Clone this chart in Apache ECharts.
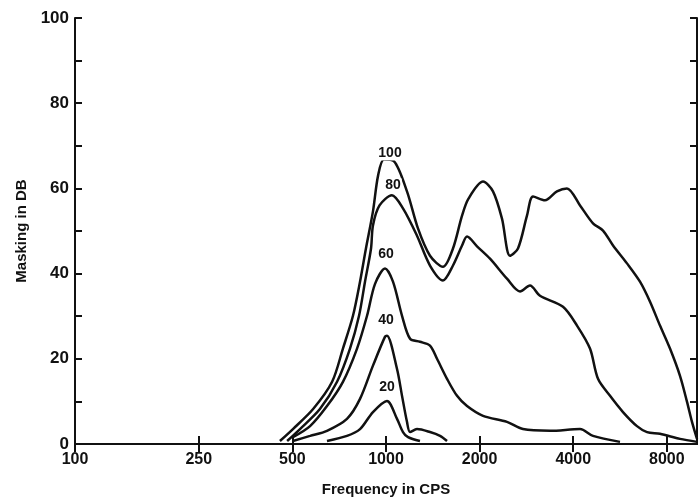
<!DOCTYPE html>
<html>
<head>
<meta charset="utf-8">
<script src="https://cdn.jsdelivr.net/npm/echarts@6/dist/echarts.min.js"></script>
<style>
  html, body { margin: 0; padding: 0; background: #fff; }
  #chart { width: 700px; height: 502px; }
</style>
</head>
<body>
<div id="chart"></div>
<script>
// frequency (cps) / masking (dB) pairs
const curve100 = [
  [456, 0.7], [502, 3.5], [583, 8.2], [671, 14.6], [727, 22.4], [783, 30.1], [825, 38.1],
  [862, 45.9], [908, 54.6], [943, 63], [985, 66.8], [1060, 66.4], [1168, 59.3], [1267, 50.6],
  [1385, 44.2], [1525, 41.6], [1642, 45.9], [1756, 53.6], [1842, 57.6], [2051, 61.6],
  [2208, 59.3], [2360, 52.9], [2504, 44.2], [2657, 45.9], [2840, 53.6], [2970, 58.1],
  [3245, 57.2], [3546, 59.3], [3819, 60], [4206, 56], [4630, 51.8], [4986, 50.1],
  [5370, 46.6], [5955, 42.4], [6557, 38.1], [7063, 33.4], [7603, 27.8], [8188, 22.4],
  [8817, 16], [9288, 9.9], [9636, 5.2], [10000, 1.2]
];
const curve80 = [
  [481, 0.7], [529, 3.5], [613, 8.2], [696, 14.6], [766, 22.4], [819, 30.1], [856, 38.1],
  [895, 45.9], [908, 51.3], [953, 56], [1045, 58.4], [1134, 55.3], [1258, 48.9], [1385, 41.9],
  [1525, 38.4], [1642, 41.9], [1756, 46.6], [1822, 48.7], [1962, 46.4], [2160, 43.5],
  [2449, 38.8], [2697, 35.8], [2904, 37.2], [3127, 34.8], [3708, 32.2], [4113, 27.8],
  [4528, 22.4], [4805, 15.3], [5252, 11.3], [5781, 7.5], [6412, 4.2], [6907, 2.8],
  [7603, 2.4], [8817, 1.2], [10000, 0.5]
];
const curve60 = [
  [502, 1.6], [570, 4.2], [646, 8.9], [727, 14.6], [807, 22.4], [869, 30.1], [922, 37.6],
  [993, 41.2], [1053, 38.1], [1126, 30.1], [1195, 24.7], [1286, 24], [1385, 23.1],
  [1459, 20], [1571, 15.3], [1692, 11.3], [1822, 8.9], [2051, 6.6], [2449, 5.2],
  [2757, 3.5], [3368, 3.1], [4206, 3.5], [4630, 1.9], [5655, 0.5]
];
const curve40 = [
  [502, 0.7], [570, 1.9], [646, 3.1], [749, 5.9], [825, 10.6], [908, 18.4], [993, 25.2],
  [1007, 25.4], [1085, 17.6], [1126, 11.3], [1168, 5.2], [1195, 2.8], [1258, 3.5],
  [1385, 2.8], [1492, 1.9], [1571, 0.7]
];
const curve20 = [
  [646, 0.7], [749, 1.9], [825, 3.5], [908, 7.5], [1007, 10.1], [1085, 5.9], [1134, 2.8],
  [1177, 1.6], [1286, 0.7]
];
const curveNames = ['100', '80', '60', '40', '20'];
const labelSpots = [[1030, 68.2], [1053, 60.7], [1000, 44.5], [1000, 29], [1007, 13.4]];
const freqTicks = [100, 250, 500, 1000, 2000, 4000, 8000];

const FONT = "'Liberation Sans Narrow', 'Liberation Sans', Arial, sans-serif";
const INK = '#111';

const chart = echarts.init(document.getElementById('chart'));

const xBase = {
  type: 'log', logBase: 10, min: 100, max: 10000,
  axisLine: { lineStyle: { color: INK, width: 2 } },
  axisTick: { inside: true, length: 8, lineStyle: { color: INK, width: 2 }, customValues: freqTicks },
  minorTick: { show: false },
  splitLine: { show: false }
};
const yBase = {
  type: 'value', min: 0, max: 100, interval: 10,
  axisLine: { show: true, lineStyle: { color: INK, width: 2 } },
  axisTick: { inside: true, length: 7, lineStyle: { color: INK, width: 2 } },
  splitLine: { show: false }
};

const curves = [curve100, curve80, curve60, curve40, curve20];

chart.setOption({
  animation: false,
  backgroundColor: '#fff',
  grid: { left: 75, right: 3, top: 18, bottom: 57 },
  xAxis: [
    Object.assign({}, xBase, {
      position: 'bottom',
      name: 'Frequency in CPS', nameLocation: 'middle', nameGap: 38,
      nameTextStyle: { color: INK, fontFamily: FONT, fontWeight: 'bold', fontSize: 15 },
      axisLabel: {
        customValues: freqTicks, color: INK, fontFamily: FONT, fontWeight: 'bold',
        fontSize: 16, margin: 8,
        formatter: v => String(Math.round(v))
      }
    }),
    Object.assign({}, xBase, { position: 'top', axisLabel: { show: false } })
  ],
  yAxis: [
    Object.assign({}, yBase, {
      position: 'left',
      name: 'Masking in DB', nameLocation: 'middle', nameGap: 45,
      nameTextStyle: { color: INK, fontFamily: FONT, fontWeight: 'bold', fontSize: 15 },
      axisLabel: {
        color: INK, fontFamily: FONT, fontWeight: 'bold', fontSize: 17, margin: 6,
        formatter: v => (v % 20 === 0 ? String(v) : '')
      }
    }),
    Object.assign({}, yBase, { position: 'right', axisLabel: { show: false } })
  ],
  series: curves.map((data, i) => ({
    name: curveNames[i],
    type: 'line',
    data: data,
    smooth: 0.3,
    showSymbol: false,
    lineStyle: { color: INK, width: 2.5 },
    z: 3,
    markPoint: {
      symbol: 'rect', symbolSize: 0,
      label: {
        show: true, position: 'inside', formatter: curveNames[i],
        color: INK, fontFamily: FONT, fontWeight: 'bold', fontSize: 14,
        backgroundColor: '#fff', padding: [0, 1]
      },
      data: [{ coord: labelSpots[i] }]
    }
  }))
});
</script>
</body>
</html>
